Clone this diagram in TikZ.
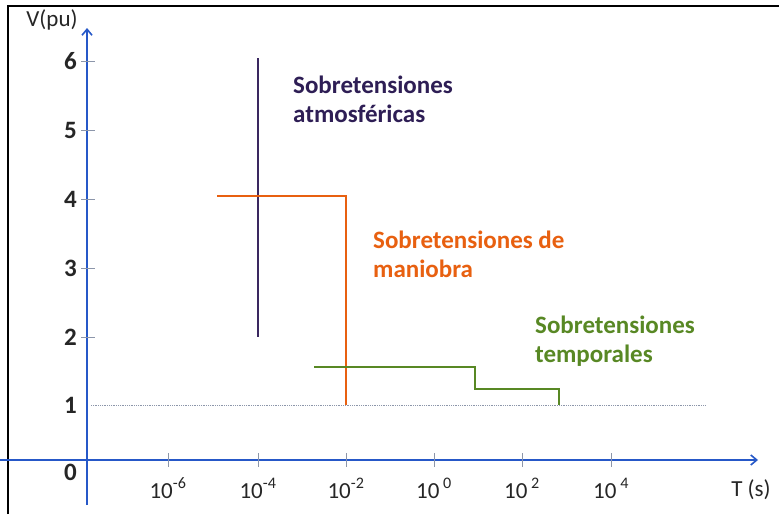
\documentclass[tikz,border=0pt]{standalone}
\usepackage{fontspec}
\setmainfont{Carlito}
\usetikzlibrary{arrows.meta}
\definecolor{axisblue}{RGB}{38,88,200}
\definecolor{atmo}{RGB}{58,40,96}
\definecolor{atmotext}{RGB}{46,30,85}
\definecolor{mani}{RGB}{232,96,16}
\definecolor{temp}{RGB}{88,136,36}
\definecolor{tickgray}{RGB}{140,150,170}
\tikzset{
  axisline/.style={axisblue, line width=1.6pt, -{Straight Barb[length=6pt,width=10pt,line width=1.6pt]}},
  ytick/.style={tickgray, line width=0.6pt},
  xtick/.style={tickgray, line width=0.6pt},
  ylab/.style={anchor=base east, font=\fontsize{25}{25}\selectfont\bfseries, text=black!85, inner sep=0pt},
  xlab/.style={anchor=base, font=\fontsize{23}{23}\selectfont, text=black!85, inner sep=0pt},
  axname/.style={anchor=base, font=\fontsize{23}{23}\selectfont, text=black!85, inner sep=0pt},
  seriestext/.style={anchor=base west, align=left, font=\fontsize{25}{29}\selectfont\bfseries, inner sep=0pt},
  curve/.style={line width=1.6pt}
}
\begin{document}
\begin{tikzpicture}[x=1pt,y=-1pt]
\useasboundingbox (0,0) rectangle (779,514);
\fill[white] (0,0) rectangle (779,514);
% frame (top and left)
\draw[black, line width=2pt] (8,514) -- (8,6) -- (779,6);
% reference line V=1
\draw[tickgray, line width=0.8pt, densely dotted] (91,405) -- (705,405);
% axes
\coordinate (xs) at (0,460);
\coordinate (xe) at (758,460);
\coordinate (ys) at (87,505);
\coordinate (ye) at (87,28);
\draw[axisline] (xs) -- (xe);
\draw[axisline] (ys) -- (ye);
% y ticks and labels
\foreach \v/\y in {6/61,5/130,4/199,3/268,2/337}{
  \draw[ytick] (81,\y) -- (95,\y);
  \node[ylab] (yl\v) at (77,\y+8) {\v};
}
\node[ylab] (yl1) at (77,413) {1};
\node[ylab] (yl0) at (77,480) {0};
% x ticks and labels
\foreach \n/\x/\t in {a/168/-6,b/258/-4,c/346/-2}{
  \draw[xtick] (\x,453) -- (\x,467);
  \node[xlab] (xl\n) at (\x,498) {10\textsuperscript{\t}};
}
\foreach \n/\x/\t in {d/434/0,e/522/2,f/611/4}{
  \draw[xtick] (\x,453) -- (\x,467);
  \node[xlab] (xl\n) at (\x,498) {10\,\textsuperscript{\t}};
}
\node[axname] (vlab) at (52,26) {V(pu)};
\node[axname] (tlab) at (751,496) {T (s)};
% atmospheric
\coordinate (a1) at (258,58);
\coordinate (a2) at (258,337);
\draw[atmo, curve] (a1) -- (a2);
% maniobra
\coordinate (m1) at (217,196);
\coordinate (m2) at (346,196);
\coordinate (m3) at (346,405);
\draw[mani, curve] (m1) -- (m2) -- (m3);
% temporales
\coordinate (t1) at (314,367);
\coordinate (t2) at (475,367);
\coordinate (t3) at (475,389);
\coordinate (t4) at (559,389);
\coordinate (t5) at (559,405);
\draw[temp, curve] (t1) -- (t2) -- (t3) -- (t4) -- (t5);
% texts
\node[seriestext, text=atmotext] (atext) at (293,122) {Sobretensiones\\atmosféricas};
\node[seriestext, text=mani] (mtext) at (373,277) {Sobretensiones de\\maniobra};
\node[seriestext, text=temp] (ttext) at (535,362) {Sobretensiones\\temporales};
\end{tikzpicture}
\end{document}
